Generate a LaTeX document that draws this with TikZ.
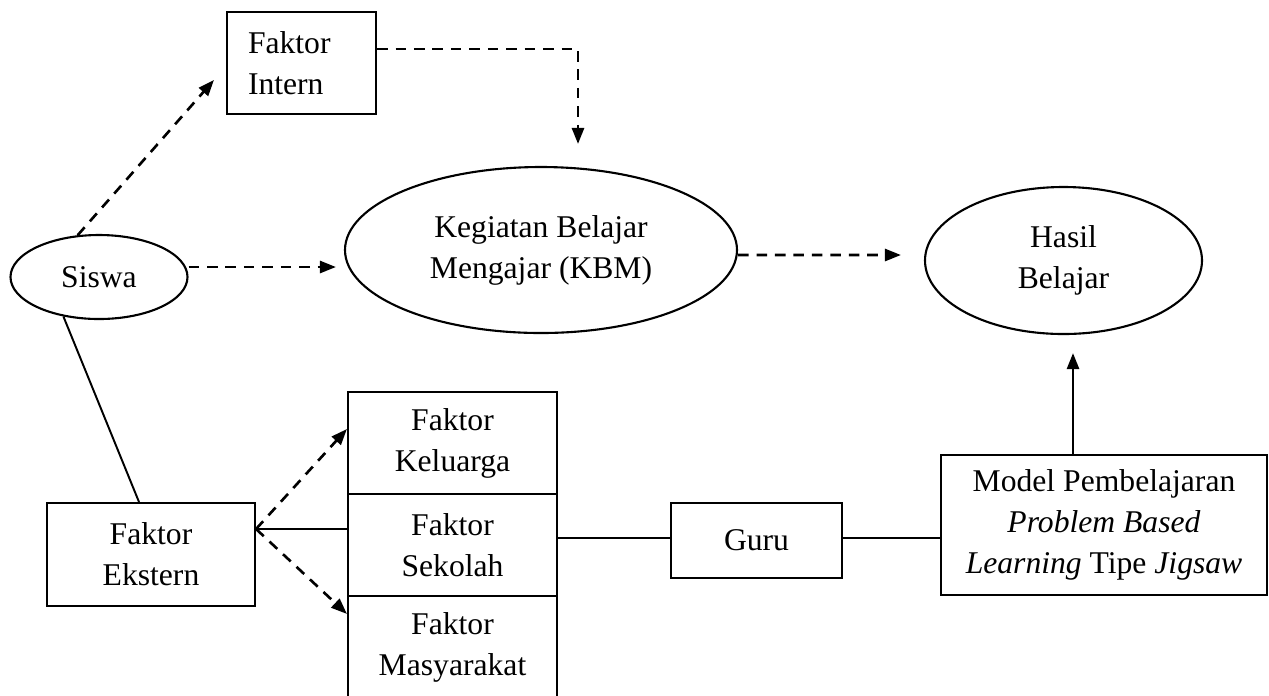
\documentclass[tikz,border=0pt]{standalone}
\usepackage{fontspec}
\setmainfont{Liberation Serif}
\usetikzlibrary{shapes.geometric,arrows.meta}

\begin{document}
\begin{tikzpicture}
    [font=\fontsize{18}{23.3}\selectfont,
     box/.style={rectangle,draw,line width=1.2pt,inner sep=0pt,align=center},
     oval/.style={ellipse,draw,line width=1.2pt,inner sep=0pt,align=center},
     dasharrow/.style={dash pattern=on 6pt off 4.5pt,line width=1.5pt,-{Triangle[length=0.32cm,width=0.24cm]}},
     solidarrow/.style={line width=1.5pt,-{Triangle[length=0.32cm,width=0.24cm]}},
     link/.style={line width=1.1pt}]
    \useasboundingbox (0,0) rectangle (25.38,-13.9);
    \node (siswa) at (1.98,-5.54) [oval,minimum width=3.54cm,minimum height=1.68cm] {Siswa};
    \node (intern) at (6.03,-1.26) [box,minimum width=2.98cm,minimum height=2.04cm,
      inner xsep=0.42cm,text width=2.14cm,align=left] {Faktor\\Intern};
    \node (kbm) at (10.82,-5.0) [oval,minimum width=7.84cm,minimum height=3.32cm] {Kegiatan Belajar\\Mengajar (KBM)};
    \node (hasil) at (21.27,-5.21) [oval,minimum width=5.54cm,minimum height=2.94cm] {Hasil\\Belajar};
    \node (ekstern) at (3.02,-11.09) [box,minimum width=4.16cm,minimum height=2.06cm] {Faktor\\Ekstern};
    \node (keluarga) at (9.05,-8.86) [box,minimum width=4.18cm,minimum height=2.04cm] {Faktor\\Keluarga};
    \node (sekolah) at (9.05,-10.9) [box,minimum width=4.18cm,minimum height=2.04cm] {Faktor\\Sekolah};
    \node (masyarakat) at (9.05,-12.94) [box,minimum width=4.18cm,minimum height=2.04cm] {Faktor\\Masyarakat};
    \node (guru) at (15.13,-10.81) [box,minimum width=3.42cm,minimum height=1.5cm] {Guru};
    \node (model) at (22.08,-10.5) [box,minimum width=6.52cm,minimum height=2.8cm]
      {Model Pembelajaran\\\textit{Problem Based}\\\textit{Learning} Tipe \textit{Jigsaw}};
    \draw [dasharrow] (siswa.117) -- ([shift={(-0.24,-0.34)}]intern.west);
    \draw [dasharrow] ([yshift=0.28cm]intern.east) -| ([shift={(0.74,0.44)}]kbm.north);
    \draw [dasharrow] ([yshift=0.2cm]siswa.east) -- ([shift={(-0.16,-0.34)}]kbm.west);
    \draw [dasharrow] ([yshift=-0.1cm]kbm.east) -- ([shift={(-0.46,0.11)}]hasil.west);
    \draw [solidarrow] ([xshift=-0.62cm]model.north) -- ([shift={(0.19,-0.36)}]hasil.south);
    \draw [link] (siswa.228) -- ([xshift=-0.24cm]ekstern.north);
    \coordinate (split) at ([yshift=0.51cm]ekstern.east);
    \draw [link] (split) -- (split -| sekolah.west);
    \draw [dasharrow] (split) -- ([yshift=0.28cm]keluarga.west);
    \draw [dasharrow] (split) -- ([yshift=-0.38cm]masyarakat.north west);
    \draw [link] ([yshift=0.05cm]sekolah.east |- guru.west) -- ([yshift=0.05cm]guru.west);
    \draw [link] ([yshift=0.05cm]guru.east) -- ([yshift=0.05cm]guru.east -| model.west);
  \end{tikzpicture}
\end{document}
